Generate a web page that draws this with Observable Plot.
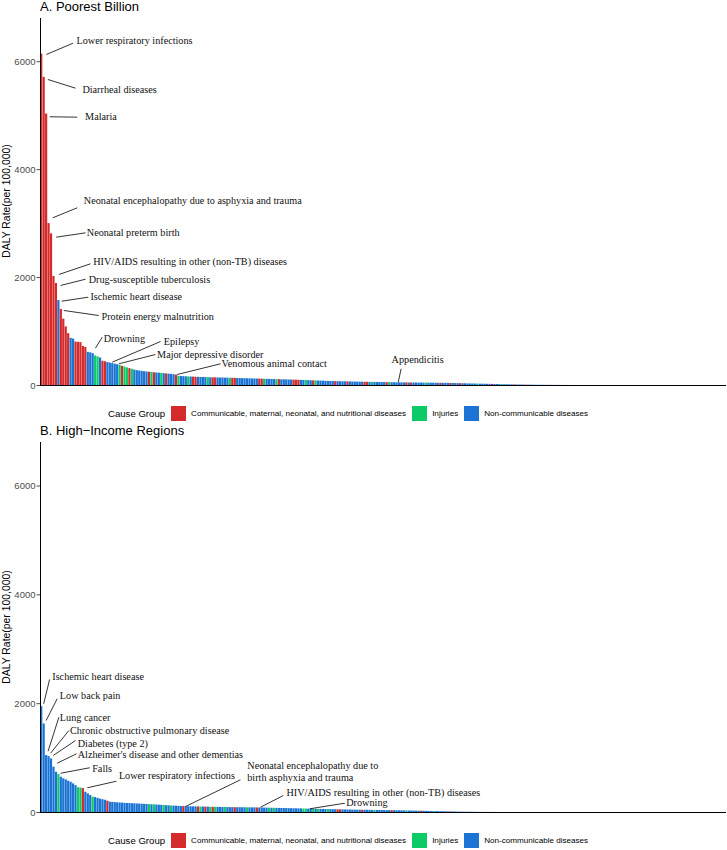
<!DOCTYPE html>
<html>
<head>
<meta charset="utf-8">
<script src="https://cdn.jsdelivr.net/npm/d3@7"></script>
<script src="https://cdn.jsdelivr.net/npm/@observablehq/plot@0.6"></script>
<style>
  body { margin: 0; background: #fff; }
  #root { position: relative; width: 727px; height: 850px; font-family: "Liberation Sans", Arial, sans-serif; overflow: hidden; }
  .title { position: absolute; left: 40px; font-size: 13px; line-height: 13px; color: #000; white-space: nowrap; }
  .ylab { position: absolute; font-size: 10.4px; color: #000; white-space: nowrap; transform: translate(-50%, -50%) rotate(-90deg); }
  .plot { position: absolute; left: 0; }
  .legend { position: absolute; left: 108px; height: 16px; display: flex; align-items: center; white-space: nowrap; color: #000; }
  .legend .lt { font-size: 9.6px; margin-right: 5.5px; }
  .legend .sw { width: 15px; height: 15px; margin-right: 5.5px; }
  .legend .ll { font-size: 8.1px; margin-right: 5.5px; }
</style>
</head>
<body>
<div id="root">
  <div class="title" style="top:0px">A. Poorest Billion</div>
  <div class="ylab" style="left:6px; top:201px">DALY Rate(per 100,000)</div>
  <div class="plot" id="plotA" style="top:18px"></div>
  <div class="legend" id="legendA" style="top:405px"></div>
  <div class="title" style="top:424px">B. High−Income Regions</div>
  <div class="ylab" style="left:6px; top:627px">DALY Rate(per 100,000)</div>
  <div class="plot" id="plotB" style="top:442px"></div>
  <div class="legend" id="legendB" style="top:832px"></div>
</div>
<script>
// ---------- data ----------
const causeCount = 280;               // number of causes on the x axis (tail causes ~0)
const groupCodes = ["C", "I", "N"];
const groupNames = ["Communicable, maternal, neonatal, and nutritional diseases", "Injuries", "Non-communicable diseases"];
const groupColors = ["#d42a2b", "#0ccb66", "#1b74d3"];
const yTicks = [0, 2000, 4000, 6000];

// Panel A: Poorest Billion, causes sorted by DALY rate
const valuesA = [6140,5710,5030,3000,2810,2020,1890,1575,1410,1230,
1085,960,875,860,805,800,795,725,705,615,
605,590,548,530,510,450,440,425,415,405,
395,385,372,355,340,325,312,300,285,275,
268,262,256,250,245,240,236,232,228,223,
219,215,210,205,200,193,172,167,164,161,
159,157,155,153,151,149,148,146,145,143,
142,141,140,139,138,137,136,135,133,132,
130,129,128,126,125,124,122,121,120,118,
117,116,114,113,112,110,109,108,106,105,
104,102,101,100,98,97,95,93,92,90,
88,86,85,83,81,80,78,76,74,73,
72,71,70,69,68,67,66,65,64,63,
62,61,60,59,58,57,57,56,55,54,
54,53,52,51,51,50,49,49,48,48,
47,47,46,46,45,45,44,44,43,43,
42,42,41,41,40,40,39,38,37,36,
35,34,33,32,30,29,28,27,26,25,
24,23,22,21,20,19,18,17,16,15,
14,13,12,11,10,9,9,8,7,7,
6,6,5,5,4,4,3,3,3,2,
2,2,1,1,1,1];
const groupsA = ("CCCCCCCNCC" + "CCNNCCCCCN" + "NNIINCCNNN" + "NNICIICINN" + "NNNNCICNNI" +
  "NCNNNCINNN" + "INCCNNNNIN" + "CCNNNNNICC" + "NNNNNNNNNC" + "CINNNNICNN" +
  "NNNCCCNNIN" + "NCINNNNNNN" + "CNNNNCNNNN" + "NNCCNINNNN" + "NCINNNNNNC" +
  "NCNNNNNINN" + "NNNCNNNCNN" + "NCNNNNNNIN" + "NNNNCNNNIN" + "NNNCNNNNCN" +
  "NNINNNNNCN" + "NNNNNN").split("");

// Panel B: High-Income Regions
const valuesB = [1945,1627,1046,1028,985,832,740,697,648,618,
600,575,556,526,495,455,450,440,373,343,
312,281,275,260,245,235,225,208,190,186,
182,178,175,172,169,166,164,162,160,158,
155,152,150,147,145,142,140,137,134,131,
128,126,123,120,118,116,113,111,108,107,
106,105,104,103,102,101,100,99,98,97,
96,95,94,93,92,91,90,90,89,89,
88,88,87,87,86,86,85,85,84,83,
82,81,80,79,78,77,76,75,74,73,
72,71,70,69,68,67,66,64,63,62,
61,60,59,58,57,56,55,54,53,52,
51,50,49,48,47,46,45,44,43,43,
42,41,41,40,40,39,38,38,37,37,
36,35,35,34,33,33,32,31,30,29,
28,27,26,25,24,23,22,21,20,19,
18,17,16,15,14,13,12,11,10,9,
8,7,6,5,5,4,4,3,3,2,
2,2,1,1,1,1];
const groupsB = ("NNNNNNNINN" + "NNNNNIICNN" + "NINNNNNCNN" + "NNNNNNNNNN" + "NNNNININNN" +
  "INNINNNNCN" + "NNNNCINCNI" + "CINNNINNNC" + "NNNNINNNCN" + "NNNININNNN" +
  "NNNNNNNIIN" + "NININNNINN" + "NCCNNNNNNN" + "NCNNNNINNN" + "NNNCNNNNNI" +
  "NNNNNCNNNN" + "INNNNNCNNN" + "NNNINNNNNN" + "NNNNNN").split("");

// Labelled causes (label text) and their repel layout (in cause-index / DALY units)
const labelsA = ["Lower respiratory infections", "Diarrheal diseases", "Malaria",
  "Neonatal encephalopathy due to asphyxia and trauma", "Neonatal preterm birth",
  "HIV/AIDS resulting in other (non-TB) diseases", "Drug-susceptible tuberculosis",
  "Ischemic heart disease", "Protein energy malnutrition", "Drowning", "Epilepsy",
  "Major depressive disorder", "Venomous animal contact", "Appendicitis"];
const layoutA = [
  [2.4,6133,13.3,6343,14.7,6393],
  [3.0,5670,14.3,5509,17.1,5490],
  [3.8,4979,15.0,4972,18.2,4990],
  [5.0,3107,15.0,3293,17.7,3428],
  [6.4,2748,18.4,2829,18.9,2841],
  [7.5,2057,20.4,2255,21.5,2303],
  [8.2,1853,18.4,1970,19.7,1970],
  [8.6,1562,19.5,1636,20.4,1649],
  [9.5,1390,23.8,1297,24.9,1284],
  [22.4,691,25.2,895,25.8,876],
  [29.3,432,49.0,815,50.3,821],
  [32.0,402,46.9,574,47.6,587],
  [55.8,204,73.5,402,73.9,413],
  [146.0,61,147.2,309,143.3,482]
];
const labelsB = ["Ischemic heart disease", "Low back pain", "Lung cancer",
  "Chronic obstructive pulmonary disease", "Diabetes (type 2)",
  "Alzheimer's disease and other dementias", "Falls", "Lower respiratory infections",
  "Neonatal encephalopathy due to\nbirth asphyxia and trauma",
  "HIV/AIDS resulting in other (non-TB) diseases", "Drowning"];
const layoutB = [
  [1.3,1998,3.7,2444,4.8,2505],
  [2.3,1691,6.8,2090,7.9,2150],
  [3.1,1127,7.5,1751,7.9,1764],
  [4.1,1090,11.6,1507,12.0,1520],
  [5.2,1048,14.3,1323,15.2,1281],
  [6.8,906,14.7,1079,15.2,1071],
  [8.2,722,20.1,822,21.1,814],
  [19.1,454,31.0,575,32.0,693],
  [59.2,110,81.6,601,84.4,763],
  [89.8,97,99.1,312,100.4,373],
  [109.9,68,124.2,171,124.8,184]
];

// ---------- drawing ----------
function panel(values, groups, labels, layout, plotH) {
  const rows = values.map((v, i) => ({i, v, g: groups[i]}));
  const ann = labels.map((label, k) => {
    const [sx, sy, ex, ey, tx, ty] = layout[k];
    return {label, sx, sy, ex, ey, tx, ty};
  });
  return Plot.plot({
    width: 727, height: plotH + 5,
    marginLeft: 40, marginRight: 1, marginTop: 0, marginBottom: 5,
    style: {fontFamily: "'Liberation Sans', Arial, sans-serif", background: "transparent", overflow: "visible"},
    x: {domain: [0, causeCount], axis: null},
    y: {domain: [0, 6800], axis: null},
    color: {domain: groupCodes, range: groupColors},
    marks: [
      Plot.rectY(rows, {x1: d => d.i + 0.05, x2: d => d.i + 0.95, y1: 0, y2: "v", fill: "g"}),
      Plot.axisY({ticks: yTicks, tickSize: 3.5, tickPadding: 1.5, tickFormat: d => String(d),
        fontSize: 9.5, color: "#4d4d4d", label: null}),
      Plot.ruleX([0], {stroke: "#000", strokeWidth: 1}),
      Plot.ruleY([0], {stroke: "#000", strokeWidth: 1}),
      Plot.link(ann, {x1: "sx", y1: "sy", x2: "ex", y2: "ey", stroke: "#000", strokeWidth: 0.8}),
      Plot.text(ann, {x: "tx", y: "ty", text: "label", textAnchor: "start",
        fontFamily: "'Liberation Serif', 'Times New Roman', serif", fontSize: 10.2, fill: "#111", lineHeight: 1.22})
    ]
  });
}

function legend(el) {
  const t = document.createElement("span");
  t.className = "lt"; t.textContent = "Cause Group"; el.appendChild(t);
  groupCodes.forEach((c, k) => {
    const s = document.createElement("span");
    s.className = "sw"; s.style.background = groupColors[k]; el.appendChild(s);
    const l = document.createElement("span");
    l.className = "ll"; l.textContent = groupNames[k]; el.appendChild(l);
  });
}

document.getElementById("plotA").appendChild(panel(valuesA, groupsA, labelsA, layoutA, 367));
document.getElementById("plotB").appendChild(panel(valuesB, groupsB, labelsB, layoutB, 370));
legend(document.getElementById("legendA"));
legend(document.getElementById("legendB"));
</script>
</body>
</html>
